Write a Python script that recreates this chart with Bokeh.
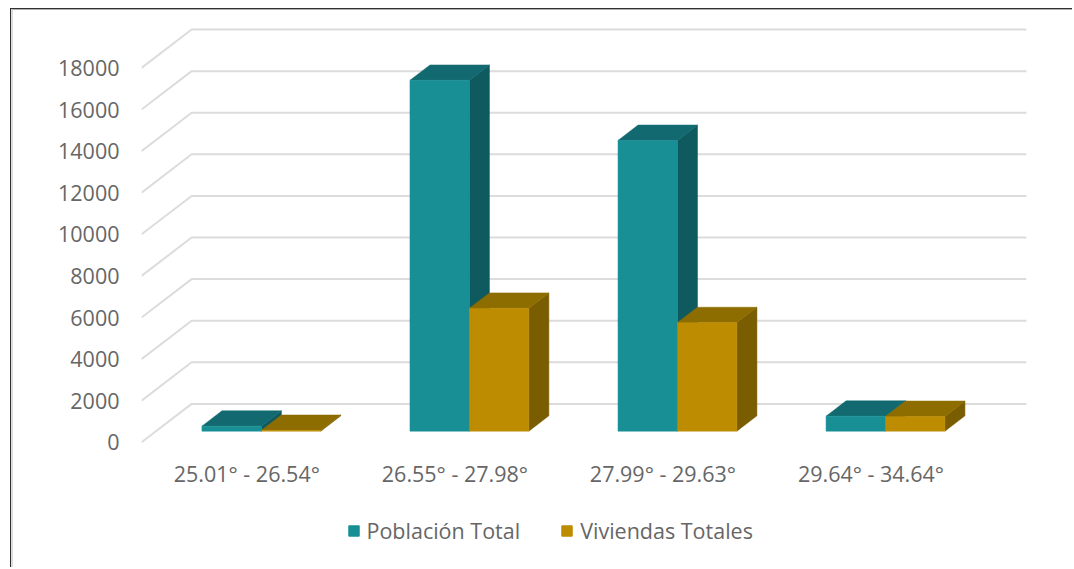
from bokeh.plotting import figure
from bokeh.layouts import column
from bokeh.embed import file_html
from bokeh.resources import INLINE
from bokeh.models import Range1d, FixedTicker, Legend, LegendItem

categories = ["25.01° - 26.54°", "26.55° - 27.98°", "27.99° - 29.63°", "29.64° - 34.64°"]
poblacion = [240, 16870, 13980, 720]
viviendas = [40, 5910, 5220, 710]
y_ticks = [0, 2000, 4000, 6000, 8000, 10000, 12000, 14000, 16000, 18000]
series_names = ["Población Total", "Viviendas Totales"]
teal = ["#178f94", "#126a70", "#0f5a5e"]
gold = ["#bd8c00", "#8d6d00", "#7a5d00"]
TEXT = "#666666"
FONT = "Open Sans"

CX, CY = 15, 11       # canvas origin on the page (after the picture frame)
PX_X = 207.6          # pixels per category
PX_Y = 41.5 / 2000    # pixels per value unit
FL, FR, FT, FB = 143, 1074, CY, 445   # plot frame on the page
SPLIT, PAGE_B = 515, 568              # legend strip on the page
Y0 = 441.8            # page y of value 0 on front plane
X0 = 248.1            # page x of category 0 on front plane
DX = 50 / PX_X        # full depth vector in data units
DY = 38.3 / PX_Y
D0, D1 = 0.29, 0.69   # bar depth span
BW = 59.3 / PX_X      # bar width


def faces(x0, x1, v):
    """front, top and side polygons of one oblique bar"""
    fx, fy = D0 * DX, D0 * DY
    bx, by = D1 * DX, D1 * DY
    front = ([x0 + fx, x1 + fx, x1 + fx, x0 + fx], [fy, fy, v + fy, v + fy])
    top = ([x0 + fx, x1 + fx, x1 + bx, x0 + bx], [v + fy, v + fy, v + by, v + by])
    side = ([x1 + fx, x1 + bx, x1 + bx, x1 + fx], [fy, by, v + by, v + fy])
    return front, top, side


p = figure(
    frame_width=FR - FL, frame_height=FB - FT, toolbar_location=None, output_backend="svg",
    x_range=Range1d((FL - X0) / PX_X, (FR - X0) / PX_X),
    y_range=Range1d((Y0 - FB) / PX_Y, (Y0 - FT) / PX_Y),
    min_border_left=FL - CX, min_border_right=0, min_border_top=0,
    min_border_bottom=SPLIT - FB,
    outline_line_color=None,
)
p.grid.visible = False

# gridlines: front-left diagonal then along the back wall
xleft = (FL - X0) / PX_X
xright = (1026 - X0) / PX_X - DX
grid_xs = [[xleft, xleft + DX, xright + DX] for _ in y_ticks]
grid_ys = [[t, t + DY, t + DY] for t in y_ticks]
p.multi_line(grid_xs, grid_ys, line_color="#dcdcdc", line_width=2)

# bars, back to front, left to right
for i in range(len(categories)):
    for s, (vals, cols) in enumerate([(poblacion, teal), (viviendas, gold)]):
        x0 = i - BW + s * BW
        front, top, side = faces(x0, x0 + BW, vals[i])
        p.patch(side[0], side[1], fill_color=cols[2], line_color=cols[2], line_width=0.5)
        p.patch(top[0], top[1], fill_color=cols[1], line_color=cols[1], line_width=0.5)
        p.patch(front[0], front[1], fill_color=cols[0], line_color=cols[0], line_width=0.5)

# axes
ya = p.yaxis[0]
ya.ticker = FixedTicker(ticks=y_ticks)
ya.major_label_text_font = FONT
ya.major_label_text_font_size = "21.5px"
ya.major_label_text_color = TEXT
ya.major_label_standoff = 16
ya.axis_line_color = None
ya.major_tick_line_color = None
ya.minor_tick_line_color = None

xa = p.xaxis[0]
xa.ticker = FixedTicker(ticks=list(range(len(categories))))
xa.major_label_overrides = {i: c for i, c in enumerate(categories)}
xa.major_label_text_font = FONT
xa.major_label_text_font_size = "21.5px"
xa.major_label_text_color = TEXT
xa.major_label_standoff = 7
xa.axis_line_color = None
xa.major_tick_line_color = None
xa.minor_tick_line_color = None

# legend strip beneath the plot; its proxy marks lie outside the visible range
p2 = figure(
    frame_width=FR - CX, frame_height=PAGE_B - SPLIT, toolbar_location=None, output_backend="svg",
    x_range=Range1d(0, 1), y_range=Range1d(0, 1), x_axis_type=None, y_axis_type=None,
    min_border=0, outline_line_color=None,
)
p2.grid.visible = False
swatches = [p2.quad(left=[-2], right=[-1], bottom=[-2], top=[-1], fill_color=c[0], line_color=c[0])
            for c in (teal, gold)]
legend = Legend(
    items=[LegendItem(label=series_names[k], renderers=[swatches[k]]) for k in range(2)],
    orientation="horizontal", location=(349 - CX, 22),
    border_line_color=None, background_fill_alpha=0,
    label_text_font=FONT, label_text_font_size="21.5px", label_text_color=TEXT,
    glyph_width=13, glyph_height=13, label_standoff=7, spacing=40,
    margin=0, padding=0,
)
p2.add_layout(legend)

# picture frame: left and top edges only, as borders on the page elements
p.styles = {"border-left": "2px solid #dddddd", "border-top": "1px solid #b0b0b0"}
p2.styles = {"border-left": "2px solid #dddddd"}
page = column(p, p2, spacing=0,
              styles={"margin-left": "9.5px", "margin-top": "8px",
                      "border-left": "1.5px solid #303030", "border-top": "1px solid #303030"})

open("out.html", "w").write(file_html(page, INLINE))
